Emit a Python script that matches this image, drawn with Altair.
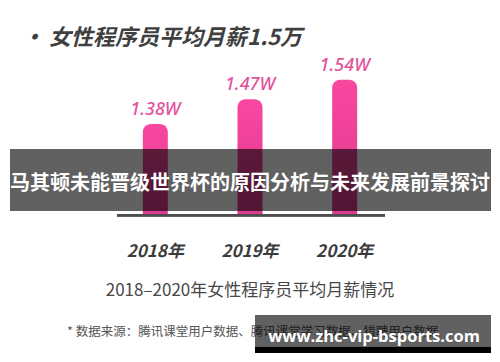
import altair as alt
import pandas as pd

years = ["2018年", "2019年", "2020年"]
salaries = [1.38, 1.47, 1.54]
value_labels = ["1.38W", "1.47W", "1.54W"]

title_text = "• 女性程序员平均月薪1.5万"
subtitle_text = "2018–2020年女性程序员平均月薪情况"
footer_text = "* 数据来源：腾讯课堂用户数据、腾讯课堂学习数据、猎聘用户数据"
banner_text = "马其顿未能晋级世界杯的原因分析与未来发展前景探讨"
watermark_text = "www.zhc-vip-bsports.com"

df = pd.DataFrame({"year": years, "salary": salaries, "label": value_labels})

CJK = "Noto Sans CJK SC"

xscale = alt.Scale(domain=years, range=[100, 384], paddingInner=0, paddingOuter=0)
yscale = alt.Scale(domain=[1.05, 1.8], range=[221, 0], zero=False)

base = alt.Chart(df)

bars = base.mark_bar(
    width=25,
    cornerRadiusTopLeft=8,
    cornerRadiusTopRight=8,
    color=alt.Gradient(
        gradient="linear",
        stops=[alt.GradientStop(color="#fa479f", offset=0),
               alt.GradientStop(color="#db3a8d", offset=1)],
        x1=0, x2=0, y1=0, y2=1,
    ),
).encode(
    x=alt.X("year:N", scale=xscale, axis=None, sort=years),
    y=alt.Y("salary:Q", scale=yscale, axis=None),
    y2=alt.datum(1.05),
)

vals = base.mark_text(
    baseline="bottom", dy=-5, fontSize=18, fontStyle="italic", fontWeight=500,
    font="Noto Sans", color="#e2529d",
).encode(
    x=alt.X("year:N", scale=xscale, axis=None, sort=years),
    y=alt.Y("salary:Q", scale=yscale, axis=None),
    text="label:N",
)

rule = base.mark_rule(color="#4d4d4d", strokeWidth=2.5).encode(
    x=alt.value(109), x2=alt.value(377), y=alt.datum(1.05)
)

year_lbl = base.mark_text(
    baseline="middle", fontSize=17, fontStyle="italic", fontWeight=600,
    font=CJK, color="#3b3b3b",
).encode(
    x=alt.X("year:N", scale=xscale, axis=None, sort=years),
    y=alt.value(244),
    text="year:N",
)

def note(text, x, y, **kw):
    return alt.Chart(pd.DataFrame({"t": [text]})).mark_text(**kw).encode(
        x=alt.value(x), y=alt.value(y), text="t:N"
    )

title = note(title_text, 14, 30, align="left", baseline="middle", fontSize=22,
             fontWeight="bold", fontStyle="italic", font=CJK, color="#3f3f3f")
subtitle = note(subtitle_text, 242, 283, align="center", baseline="middle",
                fontSize=17, font=CJK, color="#474747")
footer = note(footer_text, 59, 324, align="left", baseline="middle",
              fontSize=12.5, font=CJK, color="#555555")

def box(x, x2, y, y2, color, opacity):
    return alt.Chart(pd.DataFrame({"t": [0]})).mark_rect(color=color, opacity=opacity).encode(
        x=alt.value(x), x2=alt.value(x2), y=alt.value(y), y2=alt.value(y2)
    )

banner = box(2, 483, 141, 203, "#000000", 0.62)
banner_t = note(banner_text, 242, 176, align="center", baseline="middle",
                fontSize=20, fontWeight="bold", font=CJK, color="#ffffff")

wm_box = box(247, 483, 307, 339, "#000000", 0.62)
wm_strip = box(247, 483, 339, 345, "#000000", 1)
wm_t = note(watermark_text, 366, 329, align="center", baseline="middle",
            fontSize=16.5, fontWeight="bold", font="Open Sans", color="#ffffff")

chart = alt.layer(
    bars, vals, rule, year_lbl, title, subtitle, footer,
    banner, banner_t, wm_box, wm_strip, wm_t,
).properties(
    width=484, height=346, padding=0, autosize=alt.AutoSizeParams(type="none"),
    background="#ffffff",
).configure_view(strokeWidth=0)

chart.save("out.html", embed_options={"renderer": "svg", "actions": False})
